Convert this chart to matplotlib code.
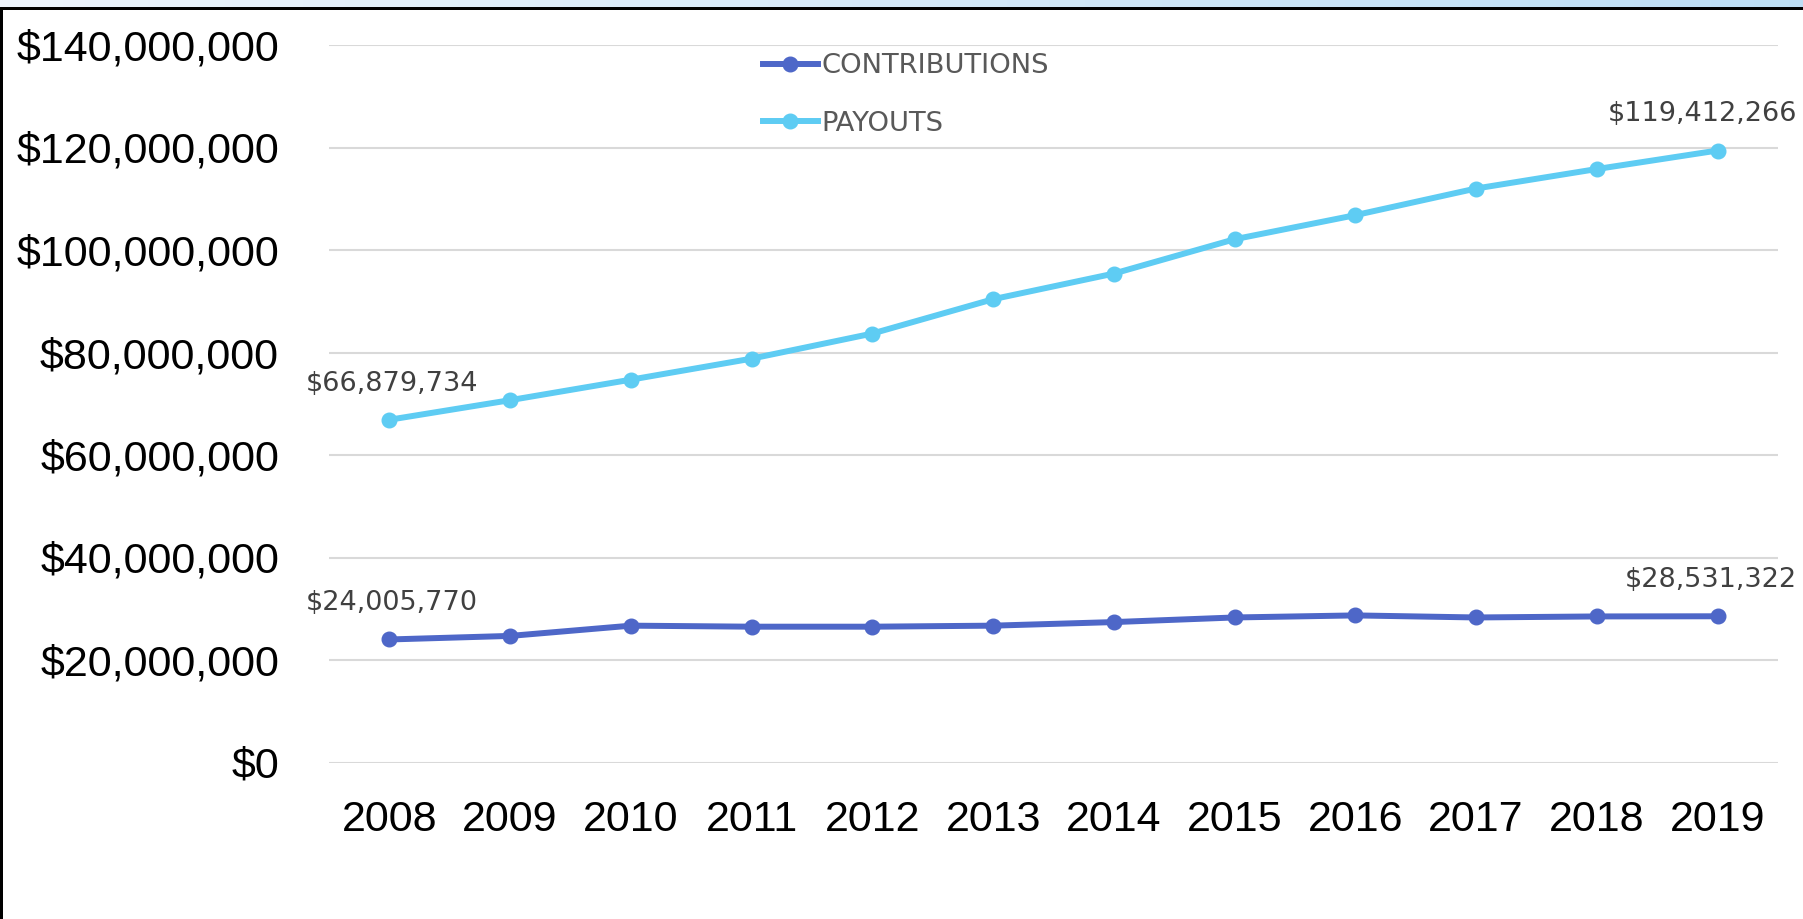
import numpy as np
import matplotlib.pyplot as plt
from matplotlib.patches import Rectangle
from matplotlib.ticker import FuncFormatter

# Data
years = ["2008", "2009", "2010", "2011", "2012", "2013",
         "2014", "2015", "2016", "2017", "2018", "2019"]
contributions = [24005770, 24700000, 26700000, 26500000, 26500000, 26700000,
                 27400000, 28300000, 28700000, 28300000, 28500000, 28531322]
payouts = [66879734, 70700000, 74700000, 78800000, 83700000, 90400000,
           95400000, 102100000, 106800000, 112000000, 115800000, 119412266]

c_contrib = "#4E67C8"
c_pay = "#5ECCF3"

W, H = 1803, 919
fig = plt.figure(figsize=(W / 100, H / 100), dpi=100)

# window chrome: light blue strip on top, black frame
strip = fig.add_axes([0, 1 - 8 / H, 1, 8 / H])
grad = np.linspace(0, 1, 256)
c0 = np.array([0.93, 0.96, 0.99])
c1 = np.array([0.74, 0.87, 0.96])
strip.imshow((c0 + (c1 - c0) * grad[:, None])[None, :, :], aspect="auto")
strip.axis("off")
fig.add_artist(Rectangle((0, 1 - 10 / H), 1, 3 / H, transform=fig.transFigure,
                         color="black", lw=0))
fig.add_artist(Rectangle((0, 0), 3 / W, 1 - 8 / H, transform=fig.transFigure,
                         color="black", lw=0))

ax = fig.add_axes([329 / W, 1 - 762.5 / H, (1778 - 329) / W, (762.5 - 45) / H])
x = np.arange(len(years))

ax.plot(x, contributions, color=c_contrib, lw=4.3, marker="o", ms=10.5,
        label="CONTRIBUTIONS", zorder=3)
ax.plot(x, payouts, color=c_pay, lw=4.3, marker="o", ms=10.5,
        label="PAYOUTS", zorder=3)

ax.set_xlim(-0.5, len(years) - 0.5)
ax.set_ylim(0, 140000000)
ax.set_yticks(np.arange(0, 140000001, 20000000))
ax.yaxis.set_major_formatter(FuncFormatter(lambda v, p: f"${v:,.0f}"))
ax.set_xticks(x)
ax.set_xticklabels(years)

for s in ax.spines.values():
    s.set_visible(False)
ax.grid(axis="y", color="#D9D9D9", lw=1.5)
ax.set_axisbelow(True)
ax.tick_params(axis="y", length=0, pad=36, labelsize=31)
ax.tick_params(axis="x", length=0, pad=27, labelsize=31)
for lab in ax.get_xticklabels() + ax.get_yticklabels():
    lab.set_fontfamily("Liberation Sans")

# data labels at the first and last points
lab_kw = dict(textcoords="offset points", fontsize=19.5, color="#404040",
              family="DejaVu Sans", va="center")
for series in (contributions, payouts):
    ax.annotate(f"${series[0]:,}", (x[0], series[0]), xytext=(2, 26),
                ha="center", **lab_kw)
    ax.annotate(f"${series[-1]:,}", (x[-1], series[-1]), xytext=(57, 26),
                ha="right", annotation_clip=False, **lab_kw)

leg = ax.legend(loc="center left", bbox_to_anchor=(763 / W, 1 - 95 / H),
                bbox_transform=fig.transFigure, frameon=False, borderpad=0,
                borderaxespad=0, handlelength=2.0, handletextpad=0.15,
                labelspacing=1.15, prop={"family": "DejaVu Sans", "size": 19.7})
for t in leg.get_texts():
    t.set_color("#595959")

fig.savefig("out.png", dpi=100, facecolor="white")
